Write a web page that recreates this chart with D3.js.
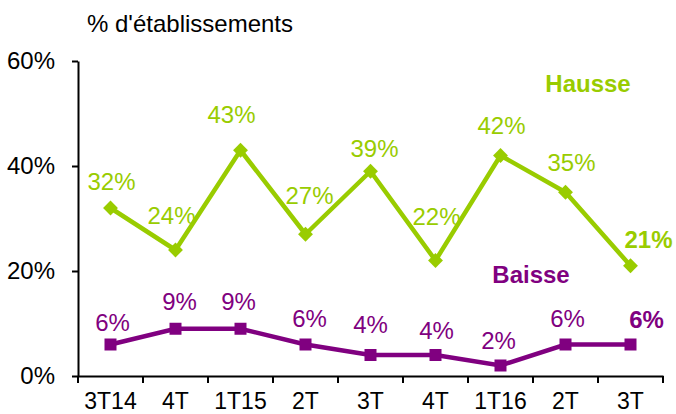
<!DOCTYPE html>
<html><head><meta charset="utf-8">
<script src="https://cdn.jsdelivr.net/npm/d3@7"></script>
<style>body{margin:0;background:#fff}svg{display:block;font-family:"Liberation Sans",Arial,sans-serif}</style>
</head><body><svg id="c" width="676" height="414"></svg>
<script>
const categories = ["3T14","4T","1T15","2T","3T","4T","1T16","2T","3T"];
const hausse = [32,24,43,27,39,22,42,35,21];
const baisse = [6,9,9,6,4,4,2,6,6];
const yTicks = [0,20,40,60];
// label placement offsets relative to each point (as in the original)
const hausseLabelDx = [1,-4,-9,4,4,1,1,6,18];
const hausseLabelDy = [-18,-26,-27,-30,-14,-36,-22,-21,-18];
const baisseLabelDx = [2,4,-2,4,0,1,-2,2,16];
const baisseLabelDy = [-14,-19,-19,-18,-22,-16,-17,-18,-17];

const FS = 24;
const svg = d3.select("#c");
const x = d3.scaleBand().domain(d3.range(categories.length)).range([78,663]);
const y = d3.scaleLinear().domain([0,60]).range([376,61]);
const cx = i => x(i) + x.bandwidth()/2;

// axes
const yAxis = svg.append("g").attr("transform","translate(78,0)")
  .call(d3.axisLeft(y).tickValues(yTicks).tickFormat(d=>d+"%").tickSize(6).tickSizeOuter(0));
yAxis.select(".domain").attr("stroke","#000").attr("stroke-width",2);
yAxis.selectAll(".tick line").attr("stroke","#000").attr("stroke-width",2);
yAxis.selectAll(".tick text").attr("font-size",FS).attr("fill","#000").attr("x",-23)
  .attr("font-family","'Liberation Sans',Arial,sans-serif");

const xAxis = svg.append("g").attr("transform","translate(0,376)")
  .call(d3.axisBottom(x).tickSize(0).tickFormat(i=>categories[i]));
xAxis.select(".domain").attr("stroke","#000").attr("stroke-width",2);
xAxis.selectAll(".tick text").attr("font-size",23).attr("fill","#000")
  .attr("y",0).attr("dy",null).attr("dominant-baseline","alphabetic")
  .attr("transform","translate(0,33)")
  .attr("font-family","'Liberation Sans',Arial,sans-serif");
// category boundary ticks
svg.append("g").selectAll("line").data(d3.range(categories.length+1)).join("line")
  .attr("x1",i=>i<categories.length? x(i): x(categories.length-1)+x.bandwidth())
  .attr("x2",i=>i<categories.length? x(i): x(categories.length-1)+x.bandwidth())
  .attr("y1",376).attr("y2",383).attr("stroke","#000").attr("stroke-width",2);

// title
svg.append("text").attr("x",87).attr("y",32).attr("font-size",FS).attr("fill","#000")
  .text("% d'établissements");

const line = d3.line().x((d,i)=>cx(i)).y(d=>y(d));
const green = "#99cc00", purple = "#800080";

svg.append("path").datum(hausse).attr("d",line).attr("fill","none")
  .attr("stroke",green).attr("stroke-width",4.5).attr("stroke-linejoin","round");
svg.append("path").datum(baisse).attr("d",line).attr("fill","none")
  .attr("stroke",purple).attr("stroke-width",4.5);

svg.append("g").selectAll("path").data(hausse).join("path")
  .attr("d",d3.symbol(d3.symbolSquare,110))
  .attr("transform",(d,i)=>`translate(${cx(i)},${y(d)}) rotate(45)`)
  .attr("fill",green);
svg.append("g").selectAll("rect").data(baisse).join("rect")
  .attr("x",(d,i)=>cx(i)-6).attr("y",d=>y(d)-6).attr("width",12).attr("height",12)
  .attr("fill",purple);

// value labels
svg.append("g").selectAll("text").data(hausse).join("text")
  .attr("x",(d,i)=>cx(i)+hausseLabelDx[i]).attr("y",(d,i)=>y(d)+hausseLabelDy[i])
  .attr("text-anchor","middle").attr("font-size",FS).attr("fill",green)
  .attr("font-weight",(d,i)=>i===hausse.length-1?"bold":"normal")
  .text(d=>d+"%");
svg.append("g").selectAll("text").data(baisse).join("text")
  .attr("x",(d,i)=>cx(i)+baisseLabelDx[i]).attr("y",(d,i)=>y(d)+baisseLabelDy[i])
  .attr("text-anchor","middle").attr("font-size",FS).attr("fill",purple)
  .attr("font-weight",(d,i)=>i===baisse.length-1?"bold":"normal")
  .text(d=>d+"%");

// series names
svg.append("text").attr("x",588).attr("y",92).attr("text-anchor","middle")
  .attr("font-size",FS).attr("font-weight","bold").attr("fill",green).text("Hausse");
svg.append("text").attr("x",531).attr("y",283).attr("text-anchor","middle")
  .attr("font-size",FS).attr("font-weight","bold").attr("fill",purple).text("Baisse");
</script></body></html>
